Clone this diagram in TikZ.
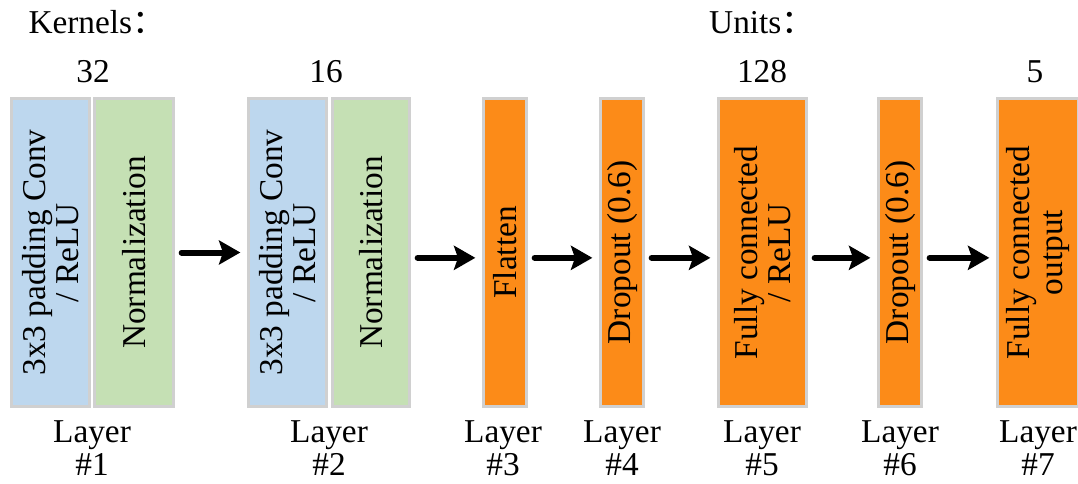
\documentclass[tikz,border=0pt]{standalone}
\usepackage{fontspec}
\setmainfont{Liberation Serif}
\newfontfamily\cjk{Noto Sans CJK SC}
\usepackage{tikz}
\usetikzlibrary{arrows.meta}

\definecolor{convblue}{RGB}{189,215,238}
\definecolor{normgreen}{RGB}{197,224,180}
\definecolor{fcorange}{RGB}{252,139,24}
\definecolor{edgegray}{RGB}{208,208,208}

\begin{document}
\begin{tikzpicture}
  [x=0.75pt,y=-0.75pt,
   every node/.style={font=\fontsize{25}{25}\selectfont,inner sep=0pt},
   box/.style={draw=edgegray,line width=2pt,minimum height=231pt},
   txt/.style={rotate=90,align=center},
   lbl/.style={anchor=north,align=center},
   arr/.style={line width=4.5pt,line cap=round,shorten <=5pt,shorten >=5pt,
     -{Stealth[length=16pt,width=18pt,inset=3pt]}}]
  \useasboundingbox (0,0) rectangle (1078,483);

  % layers
  \node[box,fill=convblue,minimum width=58.75pt]  (c1)  at (50.5,252.5) {};
  \node[box,fill=normgreen,minimum width=59.5pt]  (n1)  at (134,252.5)  {};
  \node[box,fill=convblue,minimum width=58.75pt]  (c2)  at (287.5,252.5) {};
  \node[box,fill=normgreen,minimum width=58pt]    (n2)  at (371,252.5)  {};
  \node[box,fill=fcorange,minimum width=32.5pt]   (f3)  at (505,252.5)  {};
  \node[box,fill=fcorange,minimum width=32.5pt]   (d4)  at (622,252.5)  {};
  \node[box,fill=fcorange,minimum width=66.25pt]  (fc5) at (762.5,252.5) {};
  \node[box,fill=fcorange,minimum width=32.5pt]   (d6)  at (900,252.5)  {};
  \node[box,fill=fcorange,minimum width=61pt]     (fc7) at (1038,252.5) {};

  \node[txt] (tc1)  at (c1)  {3x3 padding Conv\\/ ReLU};
  \node[txt] (tn1)  at (n1)  {Normalization};
  \node[txt] (tc2)  at (c2)  {3x3 padding Conv\\/ ReLU};
  \node[txt] (tn2)  at (n2)  {Normalization};
  \node[txt] (tf3)  at (f3)  {Flatten};
  \node[txt] (td4)  at (d4)  {Dropout (0.6)};
  \node[txt] (tfc5) at (fc5) {Fully connected\\/ ReLU};
  \node[txt] (td6)  at (d6)  {Dropout (0.6)};
  \node[txt] (tfc7) at (fc7) {Fully connected\\output};

  % sizes
  \node[anchor=base] (kern)  at (97,33)   {Kernels{\cjk ：}};
  \node[anchor=base] (units) at (762,33)  {Units{\cjk ：}};
  \node[anchor=base] (k1)    at (93,82)   {32};
  \node[anchor=base] (k2)    at (326,82)  {16};
  \node[anchor=base] (u5)    at (762,82)  {128};
  \node[anchor=base] (u7)    at (1035,82) {5};

  % layer numbers
  \node[lbl] (l1) at (92,420)   {Layer\\\#1};
  \node[lbl] (l2) at (329,420)  {Layer\\\#2};
  \node[lbl] (l3) at (503,420)  {Layer\\\#3};
  \node[lbl] (l4) at (622,420)  {Layer\\\#4};
  \node[lbl] (l5) at (762,420)  {Layer\\\#5};
  \node[lbl] (l6) at (900,420)  {Layer\\\#6};
  \node[lbl] (l7) at (1038,420) {Layer\\\#7};

  \draw[arr] (n1.east) -- (c2.west);
  \foreach \from/\to in {n2/f3,f3/d4,d4/fc5,fc5/d6,d6/fc7}
    \draw[arr] ([yshift=-4pt]\from.east) -- ([yshift=-4pt]\to.west);

\end{tikzpicture}
\end{document}
